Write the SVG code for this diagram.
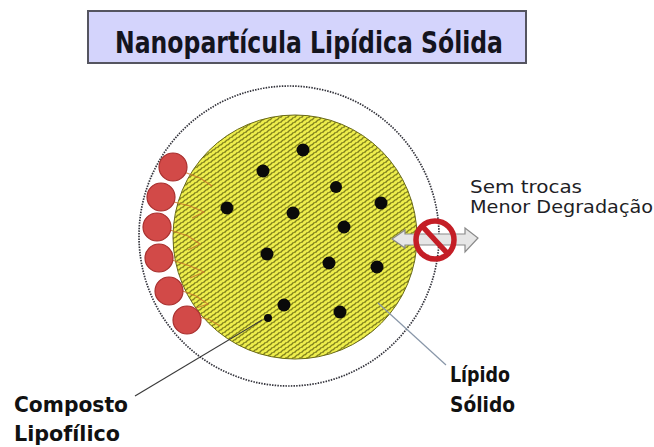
<svg xmlns="http://www.w3.org/2000/svg" width="654" height="447" viewBox="0 0 654 447">
  <defs>
    <style>
      .title { font-family: "DejaVu Sans Condensed", "DejaVu Sans", sans-serif; font-weight: bold; font-size: 30px; fill: #14141e; }
      .label { font-family: "DejaVu Sans Condensed", "DejaVu Sans", sans-serif; font-weight: bold; font-size: 21px; fill: #111; }
      .note { font-family: "DejaVu Sans Condensed", "DejaVu Sans", sans-serif; font-size: 17.5px; fill: #1e1e26; }
      .drug { fill: #0a0a0a; }
      .surf { fill: #d24a48; stroke: #a8302e; stroke-width: 1.2; }
      .tail { fill: none; stroke: #c8782a; stroke-width: 1.1; opacity: 0.85; }
      .lead { fill: none; stroke-width: 1.2; }
    </style>
    <!-- woven lipid matrix texture: staggered grains on an olive ground -->
    <pattern id="weave" width="7" height="5" patternUnits="userSpaceOnUse">
      <rect width="7" height="5" fill="#80801c"/>
      <g fill="#eeee4c">
        <ellipse cx="3.5" cy="2.5" rx="2.6" ry="1.5" transform="rotate(-45 3.5 2.5)"/>
        <ellipse cx="0" cy="0" rx="2.6" ry="1.5" transform="rotate(-45 0 0)"/>
        <ellipse cx="7" cy="0" rx="2.6" ry="1.5" transform="rotate(-45 7 0)"/>
        <ellipse cx="0" cy="5" rx="2.6" ry="1.5" transform="rotate(-45 0 5)"/>
        <ellipse cx="7" cy="5" rx="2.6" ry="1.5" transform="rotate(-45 7 5)"/>
      </g>
    </pattern>
  </defs>

  <rect width="654" height="447" fill="#ffffff"/>

  <!-- title banner -->
  <g id="title">
    <rect x="88" y="11" width="438" height="52" fill="#d4d4fc" stroke="#555560" stroke-width="2"/>
    <text class="title" x="309" y="53" text-anchor="middle" textLength="388" lengthAdjust="spacingAndGlyphs">Nanopartícula Lipídica Sólida</text>
  </g>

  <!-- particle -->
  <g id="particle">
    <circle cx="289" cy="236" r="150" fill="none" stroke="#34343c" stroke-width="1.7" stroke-dasharray="1.5 1.2"/>
    <circle cx="295" cy="237" r="122" fill="url(#weave)" stroke="#6a6a18" stroke-width="1"/>
  </g>

  <!-- surface molecules with tails into the matrix -->
  <g id="surface">
    <polyline class="tail" points="184,172 200,178 212,186"/>
    <polyline class="tail" points="174,202 190,206 204,212 192,218"/>
    <polyline class="tail" points="170,230 188,236 200,244 188,250"/>
    <polyline class="tail" points="172,260 190,266 204,272 190,278"/>
    <polyline class="tail" points="180,290 196,296 208,304 196,308"/>
    <polyline class="tail" points="196,316 210,320 220,326"/>
    <circle class="surf" cx="173" cy="167" r="14"/>
    <circle class="surf" cx="161" cy="197" r="14"/>
    <circle class="surf" cx="157" cy="227" r="14"/>
    <circle class="surf" cx="159" cy="258" r="14"/>
    <circle class="surf" cx="169" cy="291" r="14"/>
    <circle class="surf" cx="187" cy="320" r="14"/>
  </g>

  <!-- encapsulated drug -->
  <g id="drug">
    <circle class="drug" cx="303" cy="150" r="6.5"/>
    <circle class="drug" cx="263" cy="171" r="6.5"/>
    <circle class="drug" cx="336" cy="187" r="6"/>
    <circle class="drug" cx="381" cy="203" r="6.5"/>
    <circle class="drug" cx="227" cy="208" r="6.5"/>
    <circle class="drug" cx="293" cy="213" r="6.5"/>
    <circle class="drug" cx="344" cy="227" r="6.5"/>
    <circle class="drug" cx="267" cy="254" r="6.5"/>
    <circle class="drug" cx="329" cy="263" r="6.5"/>
    <circle class="drug" cx="377" cy="267" r="6.5"/>
    <circle class="drug" cx="284" cy="305" r="6.5"/>
    <circle class="drug" cx="340" cy="312" r="6.5"/>
    <circle class="drug" cx="268" cy="318" r="4"/>
  </g>

  <!-- blocked exchange -->
  <g id="exchange">
    <path d="M392,239 L405,230 L405,234 L465,234 L465,228 L478,238 L465,252 L465,245 L405,245 L405,248 Z" fill="#e6e6e6" stroke="#8a8a8a" stroke-width="1.2"/>
    <circle cx="435" cy="240" r="19" fill="none" stroke="#c41e26" stroke-width="5.5"/>
    <line x1="422" y1="226" x2="448" y2="254" stroke="#c41e26" stroke-width="5.5"/>
  </g>

  <g id="note">
    <text class="note" x="470" y="193" textLength="112" lengthAdjust="spacingAndGlyphs">Sem trocas</text>
    <text class="note" x="470" y="213" textLength="183" lengthAdjust="spacingAndGlyphs">Menor Degradação</text>
  </g>

  <!-- leader lines -->
  <g id="connectors">
    <line class="lead" x1="135" y1="396" x2="262" y2="320" stroke="#3a3a3a"/>
    <line class="lead" x1="378" y1="303" x2="446" y2="365" stroke="#8896a8"/>
  </g>

  <g id="label-composto">
    <text class="label" x="14" y="412" textLength="114" lengthAdjust="spacingAndGlyphs">Composto</text>
    <text class="label" x="14" y="441" textLength="106" lengthAdjust="spacingAndGlyphs">Lipofílico</text>
  </g>

  <g id="label-lipido">
    <text class="label" x="450" y="382" textLength="60" lengthAdjust="spacingAndGlyphs">Lípido</text>
    <text class="label" x="450" y="412" textLength="65" lengthAdjust="spacingAndGlyphs">Sólido</text>
  </g>
</svg>
